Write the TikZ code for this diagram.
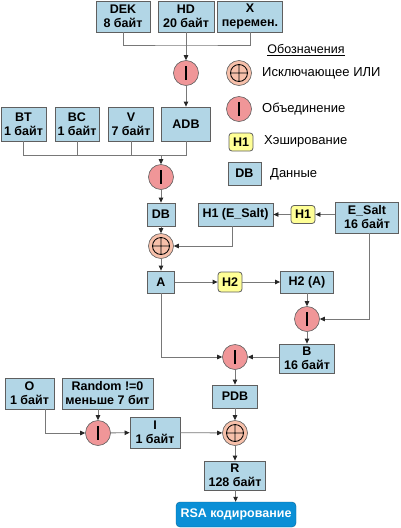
\documentclass[tikz,border=0pt]{standalone}
\usepackage{fontspec}
\setmainfont{Liberation Sans}
\usetikzlibrary{arrows.meta}

\definecolor{boxblue}{RGB}{178,214,230}
\definecolor{boxedge}{RGB}{95,95,95}
\definecolor{linegray}{RGB}{120,120,120}
\definecolor{orpink}{RGB}{240,150,152}
\definecolor{xorsalmon}{RGB}{247,192,170}
\definecolor{hashyellow}{RGB}{255,255,150}
\definecolor{rsablue}{RGB}{10,143,214}

\tikzset{
  blk/.style 2 args={draw=boxedge, fill=boxblue, line width=0.8pt, inner sep=0pt, align=center,
    font=\bfseries\fontsize{12.5}{14}\selectfont, minimum width=#1pt, minimum height=#2pt},
  hsh/.style 2 args={blk={#1}{#2}, fill=hashyellow, rounded corners=3pt},
  rsabox/.style={draw=rsablue!70!black, fill=rsablue, rounded corners=4pt, inner sep=0pt, text=white,
    font=\bfseries\fontsize{12.5}{14}\selectfont, minimum width=120pt, minimum height=25pt},
  orop/.style={circle, draw=boxedge, fill=orpink, line width=0.6pt, minimum size=25pt, inner sep=0pt,
    path picture={\draw[line width=1.1pt, black] ([yshift=7pt]path picture bounding box.center)
      -- ([yshift=-7pt]path picture bounding box.center);}},
  xorop/.style={circle, draw=boxedge, fill=xorsalmon, line width=0.6pt, minimum size=25pt, inner sep=0pt,
    path picture={\draw[line width=0.8pt, black] (path picture bounding box.center) circle (8.5pt)
      ([yshift=8.5pt]path picture bounding box.center) -- ([yshift=-8.5pt]path picture bounding box.center)
      ([xshift=8.5pt]path picture bounding box.center) -- ([xshift=-8.5pt]path picture bounding box.center);}},
  lgd/.style={anchor=west, inner sep=0pt, font=\fontsize{13}{15}\selectfont},
  ln/.style={draw=linegray, line width=0.8pt},
  arr/.style={ln, -{Triangle[length=5pt,width=4.5pt,color=black!85]}},
}

\begin{document}
\begin{tikzpicture}[x=1pt,y=-1pt]
  \useasboundingbox (0,0) rectangle (400,528);

  \node[blk={54}{31}] (dek) at (123,16.5) {DEK\\8 байт};
  \node[blk={56}{31}] (hd) at (186,16.5) {HD\\20 байт};
  \node[blk={65}{31}] (xv) at (250,16.5) {X\\перемен.};
  \node[orop] (u1) at (186,73) {};
  \node[blk={49}{34}] (adb) at (186,124) {ADB};
  \node[blk={45}{34}] (bt) at (23.5,124) {BT\\1 байт};
  \node[blk={44}{34}] (bc) at (77,124) {BC\\1 байт};
  \node[blk={45}{34}] (v) at (131,124) {V\\7 байт};
  \node[orop] (u2) at (161,177) {};
  \node[blk={28}{23}] (db) at (161,214.5) {DB};
  \node[blk={75}{23}] (h1e) at (235.5,214.5) {H1 (E\_Salt)};
  \node[hsh={24}{18}] (h1) at (303,214.5) {H1};
  \node[blk={63}{31}] (esalt) at (367,217.5) {E\_Salt\\16 байт};
  \node[xorop] (x1) at (161,246) {};
  \node[blk={27}{22}] (a) at (161,282) {A};
  \node[hsh={24}{20}] (h2) at (230,282) {H2};
  \node[blk={53}{22}] (h2a) at (307,282) {H2 (A)};
  \node[orop] (u3) at (307,319) {};
  \node[blk={55}{29}] (b) at (307,358.5) {B\\16 байт};
  \node[orop] (u4) at (235,357) {};
  \node[blk={45}{23}] (pdb) at (235,396.5) {PDB};
  \node[blk={49}{31}] (o) at (29.5,393.5) {O\\1 байт};
  \node[blk={91}{31}] (rnd) at (107.5,393.5) {Random !=0\\меньше 7 бит};
  \node[orop] (u5) at (98,433) {};
  \node[blk={50}{31}] (i) at (155,432.5) {I\\1 байт};
  \node[xorop] (x2) at (235,433) {};
  \node[blk={61}{29}] (r) at (235,475.5) {R\\128 байт};
  \node[rsabox] (rsa) at (236,514.5) {RSA кодирование};

  \node[font=\fontsize{12.5}{14}\selectfont, inner sep=0pt] (lt) at (306,50) {\underline{Обозначения}};
  \node[xorop] (lx) at (239,73) {};
  \node[lgd] (lxt) at (262,73) {Исключающее ИЛИ};
  \node[orop] (lu) at (239,109) {};
  \node[lgd] (lut) at (262,109) {Объединение};
  \node[hsh={24}{18}] (lh) at (241,142) {H1};
  \node[lgd] (lht) at (264,141) {Хэширование};
  \node[blk={33}{23}] (ld) at (244.5,173.5) {DB};
  \node[lgd] (ldt) at (270,174) {Данные};

  \coordinate (j1) at (186,45);
  \coordinate (j2) at (161,155);
  \draw[ln] (dek) |- (j1) -| (xv);
  \draw[arr] (hd) -- (u1);
  \draw[arr] (u1) -- (adb);
  \draw[ln] (bt) |- (adb |- j2) -- (adb);
  \draw[ln] (bc) -- (bc |- j2);
  \draw[ln] (v) -- (v |- j2);
  \draw[arr] (j2) -- (u2);
  \draw[arr] (u2) -- (db);
  \draw[arr] (db) -- (x1);
  \draw[arr] (esalt.west |- h1) -- (h1);
  \draw[arr] (h1) -- (h1e);
  \draw[arr] ([xshift=-3pt]h1e.south) |- (x1);
  \draw[arr] (x1) -- (a);
  \draw[arr] (a) -- (h2);
  \draw[arr] (h2) -- (h2a);
  \draw[arr] (h2a) -- (u3);
  \draw[arr] ([xshift=2pt]esalt.south) |- (u3);
  \draw[arr] (u3) -- (b);
  \draw[arr] (a) |- (u4);
  \draw[arr] (b.west |- u4) -- (u4);
  \draw[arr] (u4) -- (pdb);
  \draw[arr] ([xshift=16pt]o.south) |- (u5);
  \draw[arr] (rnd.south -| u5) -- (u5);
  \draw[arr] (u5) -- (i);
  \draw[arr] (i) -- (x2);
  \draw[arr] (pdb) -- (x2);
  \draw[arr] (x2) -- (r);
  \draw[arr] (r) -- (rsa);
\end{tikzpicture}
\end{document}
